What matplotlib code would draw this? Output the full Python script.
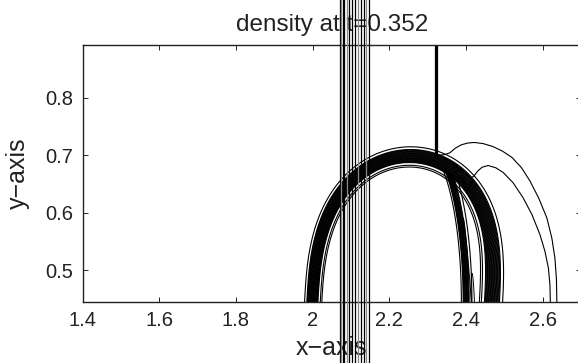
import numpy as np
import matplotlib
matplotlib.use("Agg")
import matplotlib.pyplot as plt
from matplotlib.transforms import blended_transform_factory

plt.rcParams["font.family"] = ["Liberation Sans", "DejaVu Sans"]

# axis window and ticks
x_limits = (1.4, 2.7)
y_limits = (0.446, 0.892)
x_ticks = [1.4, 1.6, 1.8, 2.0, 2.2, 2.4, 2.6]
x_tick_labels = ["1.4", "1.6", "1.8", "2", "2.2", "2.4", "2.6"]
y_ticks = [0.5, 0.6, 0.7, 0.8]
y_tick_labels = ["0.5", "0.6", "0.7", "0.8"]

# planar shock: stack of straight density contours (drawn unclipped)
shock_x = [2.071, 2.075, 2.079, 2.083, 2.089, 2.096, 2.104, 2.111,
           2.118, 2.125, 2.133, 2.140, 2.147]
shock_color = ["k", "#888888", "k", "k", "#888888", "k", "k", "k",
               "#888888", "k", "k", "#888888", "k"]

# bubble interface: skewed super-ellipse about the symmetry line
bubble_cx, bubble_cy = 2.2335, 0.446
bubble_a, bubble_b = 0.2335, 0.252
bubble_skew = 0.081
bubble_power = 2.74
ring_band_px = 6.5
ring_band_count = 22
ring_inner_px = [-11.5, -9.5]
ring_outer_px = [9.0]

# transmitted front inside the bubble
front_cx, front_a, front_b = 2.2985, 0.1017, 0.27
front_levels_px = [-5.0, -3.0, -2.4, -1.8, -1.2, -0.6, 0.0, 0.6, 1.2, 1.8, 2.4, 3.0, 5.5]

# thin fingers between the two dark fronts
finger_x = [2.409, 2.418]
finger_top = [0.59, 0.495]
finger_half = [0.005, 0.004]
finger_slant = [-0.11, -0.05]

# slip line above the bubble cap
jet_x = [2.319, 2.322, 2.325]
jet_bottom = 0.701

# reflected waves outside the bubble
upper_wave_x = [2.331, 2.345, 2.358, 2.372, 2.388, 2.405, 2.422, 2.445, 2.470,
                2.495, 2.520, 2.545, 2.567, 2.590, 2.611, 2.624, 2.632, 2.636, 2.637]
upper_wave_y = [0.700, 0.701, 0.704, 0.712, 0.718, 0.721, 0.722, 0.720, 0.715,
                0.707, 0.696, 0.678, 0.655, 0.625, 0.591, 0.556, 0.521, 0.484, 0.446]
lower_wave_x = [2.338, 2.355, 2.372, 2.390, 2.405, 2.413, 2.420, 2.430, 2.442, 2.458,
                2.478, 2.497, 2.523, 2.549, 2.572, 2.593, 2.606, 2.615, 2.619, 2.620]
lower_wave_y = [0.697, 0.690, 0.682, 0.672, 0.664, 0.661, 0.663, 0.672, 0.679, 0.682,
                0.678, 0.670, 0.652, 0.626, 0.597, 0.562, 0.533, 0.504, 0.475, 0.446]

W, H = 578, 363
fig = plt.figure(figsize=(W / 100, H / 100), dpi=100)
ax_l, ax_r, ax_t, ax_b = 82.5, 581.0, 44.5, 301.5
ax = fig.add_axes([ax_l / W, (H - ax_b) / H, (ax_r - ax_l) / W, (ax_b - ax_t) / H])
ax.set_xlim(*x_limits)
ax.set_ylim(*y_limits)

# pixels per data unit, used to turn level sets into screen distances
sx = (ax_r - ax_l) / (x_limits[1] - x_limits[0])
sy = (ax_b - ax_t) / (y_limits[1] - y_limits[0])

xv = np.arange(1.90, 2.75, 0.0006)
yv = np.arange(0.40, 0.95, 0.0005)
X, Y = np.meshgrid(xv, yv)


def signed_px(r):
    gy, gx = np.gradient(r, yv, xv)
    g = np.hypot(gx / sx, gy / sy)
    return (r - 1.0) / np.maximum(g, 1e-9)


line_kw = dict(colors="k", linewidths=0.8, linestyles="solid")

# bubble ring
xs = X - bubble_cx - bubble_skew * (Y - bubble_cy)
r1 = (xs / bubble_a) ** 2 + (np.abs(Y - bubble_cy) / bubble_b) ** bubble_power
d1 = signed_px(r1)
theta = np.arctan2((Y - bubble_cy) * sy, xs * sx)
ring = d1 / (1.0 + 0.15 * np.cos(theta))
ring_levels = sorted(ring_inner_px
                     + list(np.linspace(-ring_band_px, ring_band_px, ring_band_count))
                     + ring_outer_px)
ax.contour(X, Y, ring, levels=ring_levels, **line_kw)

# inner front, only where it sits inside the ring
r2 = ((X - front_cx) / front_a) ** 2 + ((Y - bubble_cy) / front_b) ** 2
front = np.ma.array(signed_px(r2), mask=(d1 > -4) | (X < 2.32))
ax.contour(X, Y, front, levels=front_levels_px, **line_kw)

for fx, ft, fh, fs in zip(finger_x, finger_top, finger_half, finger_slant):
    rf = ((X - fx - fs * (Y - bubble_cy)) / fh) ** 2 + ((Y - bubble_cy) / (ft - bubble_cy)) ** 2
    ax.contour(X, Y, rf, levels=[1.0], colors="k", linewidths=0.7, linestyles="solid")

ax.vlines(jet_x, jet_bottom, y_limits[1] + 0.05, colors="k", linewidth=0.9)
ax.plot(upper_wave_x, upper_wave_y, color="k", lw=0.8)
ax.plot(lower_wave_x, lower_wave_y, color="k", lw=0.8)

trans = blended_transform_factory(ax.transData, ax.transAxes)
ax.vlines(shock_x, -0.5, 1.5, colors=shock_color, linewidth=0.9,
          transform=trans, clip_on=False, zorder=6)

ax.set_xticks(x_ticks)
ax.set_xticklabels(x_tick_labels)
ax.set_yticks(y_ticks)
ax.set_yticklabels(y_tick_labels)
ax.tick_params(direction="in", top=True, right=True, length=3.6, width=0.7,
               labelsize=14.5, colors="#222222", pad=7)
for s in ax.spines.values():
    s.set_linewidth(1.0)
    s.set_color("#222222")

ax.set_title("density at t=0.352", fontsize=17.5, color="#222222", pad=10)
ax.set_xlabel("x\u2212axis", fontsize=18, color="#222222", labelpad=4)
ax.set_ylabel("y\u2212axis", fontsize=18, color="#222222", labelpad=11)

fig.savefig("out.png", dpi=100)
